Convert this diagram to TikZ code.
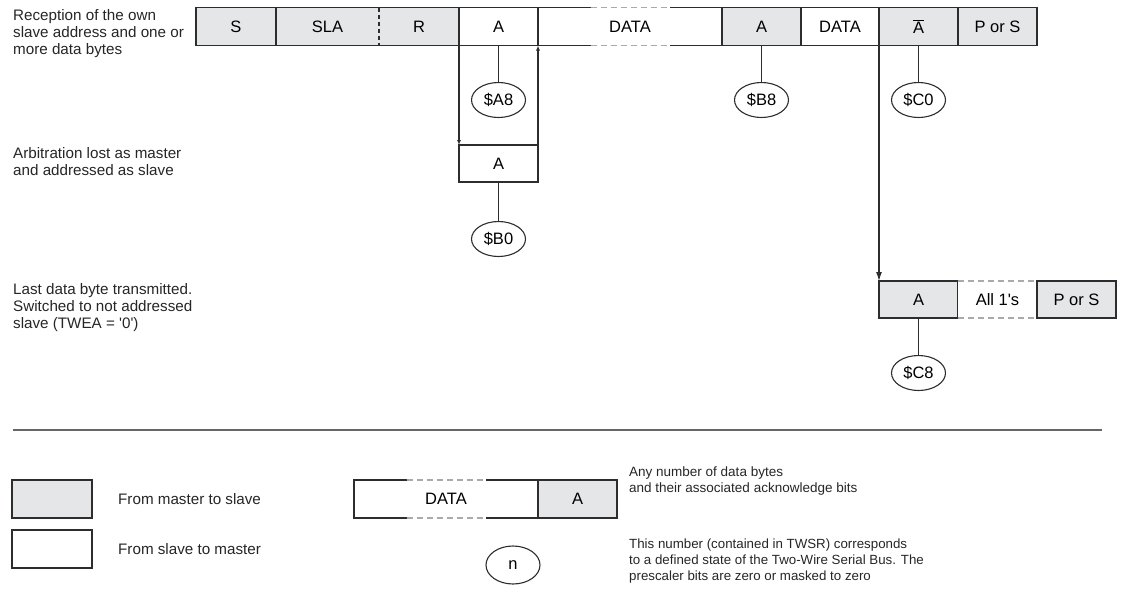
\documentclass[tikz,border=0pt]{standalone}
\usepackage{fontspec}
\setmainfont{Liberation Sans}
\usetikzlibrary{shapes.geometric,arrows.meta}
\definecolor{segGrey}{RGB}{229,230,231}
\definecolor{lineGrey}{RGB}{45,45,45}
\definecolor{gapGrey}{RGB}{170,170,170}

\tikzset{
  seg/.style={draw=lineGrey, line width=1.1pt, minimum height=38, inner sep=0pt, outer sep=0pt,
    font=\fontsize{16.5}{18}\selectfont},
  m2s/.style={seg, fill=segGrey},
  s2m/.style={seg, fill=white},
  state/.style={ellipse, draw=lineGrey, line width=1.1pt, minimum width=54, minimum height=35,
    inner sep=0pt, fill=white, font=\fontsize{16.5}{18}\selectfont},
  desc/.style={align=left, inner sep=0pt, anchor=west, text=black!85,
    font=\fontsize{15.2}{17}\selectfont},
  wire/.style={draw=lineGrey, line width=1.1pt},
  gapline/.style={draw=gapGrey, line width=1.1pt, dash pattern=on 6pt off 4pt}
}

\begin{document}
\begin{tikzpicture}[x=1pt,y=-1pt]
  \useasboundingbox (0,0) rectangle (1122,590);
  % top row
  \node[m2s, minimum width=80] (s) at (236,26.5) {S};
  \node[m2s, minimum width=103] (sla) at (327.5,26.5) {SLA};
  \node[m2s, minimum width=80] (r) at (419,26.5) {R};
  \node[s2m, minimum width=79] (ackA) at (498.5,26.5) {A};
  \node[s2m, minimum width=184] (dataA) at (630,26.5) {DATA};
  \node[m2s, minimum width=79] (ackB) at (761.5,26.5) {A};
  \node[s2m, minimum width=78] (dataB) at (840,26.5) {DATA};
  \node[m2s, minimum width=79] (nack) at (918.5,26.5) {$\overline{\mbox{A}}$};
  \node[m2s, minimum width=79] (stop) at (997.5,26.5) {P or S};
  \draw[segGrey, line width=1.8pt] (sla.north east) -- (sla.south east);
  \draw[wire, dash pattern=on 4pt off 3pt] (sla.north east) -- (sla.south east);
  \draw[white, line width=1.8pt] ([xshift=-39.5]dataA.north) -- ([xshift=39.5]dataA.north) ([xshift=-39.5]dataA.south) -- ([xshift=39.5]dataA.south);
  \draw[gapline] ([xshift=-39.5]dataA.north) -- ([xshift=39.5]dataA.north) ([xshift=-39.5]dataA.south) -- ([xshift=39.5]dataA.south);
  \node[desc] (txtOwn) at (13,33.5) {Reception of the own\\slave address and one or\\more data bytes};

  % status codes
  \node[state] (stA8) at (498.5,100) {\$A8};
  \node[state] (stB8) at (761.5,100) {\$B8};
  \node[state] (stC0) at (918.5,100) {\$C0};
  \draw[wire] (ackA) -- (stA8);
  \draw[wire] (ackB) -- (stB8);
  \draw[wire] (nack) -- (stC0);

  % arbitration lost
  \node[s2m, minimum width=79, minimum height=37] (ackArb) at (498.5,163.5) {A};
  \node[desc] (txtArb) at (13,161.5) {Arbitration lost as master\\and addressed as slave};
  \draw[wire, -{Latex[length=5pt,width=4pt]}] (ackA.south west) -- (ackArb.north west);
  \draw[wire, -{Latex[length=5pt,width=4pt]}] (ackArb.north east) -- (ackA.south east);
  \node[state] (stB0) at (498.5,239) {\$B0};
  \draw[wire] (ackArb) -- (stB0);

  % last byte
  \node[m2s, minimum width=79, minimum height=37] (ackC) at (918.5,299.5) {A};
  \node[s2m, draw=none, minimum width=79, minimum height=37] (ones) at (997.5,299.5) {All 1\textquotesingle s};
  \node[m2s, minimum width=79, minimum height=37] (stopC) at (1076.5,299.5) {P or S};
  \draw[gapline] (ones.north west) -- (ones.north east) (ones.south west) -- (ones.south east);
  \draw[wire, -{Latex[length=9pt,width=6pt]}] (nack.south west) -- (ackC.north west);
  \node[state] (stC8) at (918.5,373) {\$C8};
  \draw[wire] (ackC) -- (stC8);
  \node[desc] (txtLast) at (13,308) {Last data byte transmitted.\\Switched to not addressed\\slave (TWEA = \textquotesingle 0\textquotesingle )};

  % legend
  \draw[black!60, line width=1.4pt] (13,430) -- (1102,430);
  \node[m2s, minimum width=80] (keyM) at (52,499) {};
  \node[s2m, minimum width=80] (keyS) at (52,549) {};
  \node[desc] (txtM) at (118,499) {From master to slave};
  \node[desc] (txtS) at (118,549) {From slave to master};
  \node[s2m, minimum width=184] (keyData) at (446,499) {DATA};
  \node[m2s, minimum width=79] (keyAck) at (577.5,499) {A};
  \draw[white, line width=1.8pt] ([xshift=-39.5]keyData.north) -- ([xshift=39.5]keyData.north) ([xshift=-39.5]keyData.south) -- ([xshift=39.5]keyData.south);
  \draw[gapline] ([xshift=-39.5]keyData.north) -- ([xshift=39.5]keyData.north) ([xshift=-39.5]keyData.south) -- ([xshift=39.5]keyData.south);
  \node[desc, font=\fontsize{13.5}{16}\selectfont] (txtAny) at (629,481) {Any number of data bytes\\and their associated acknowledge bits};
  \node[state, minimum height=38] (keyN) at (513,565) {n};
  \node[desc, font=\fontsize{13.3}{16}\selectfont] (txtN) at (629,561) {This number (contained in TWSR) corresponds\\to a defined state of the Two-Wire Serial Bus. The\\prescaler bits are zero or masked to zero};
\end{tikzpicture}
\end{document}
